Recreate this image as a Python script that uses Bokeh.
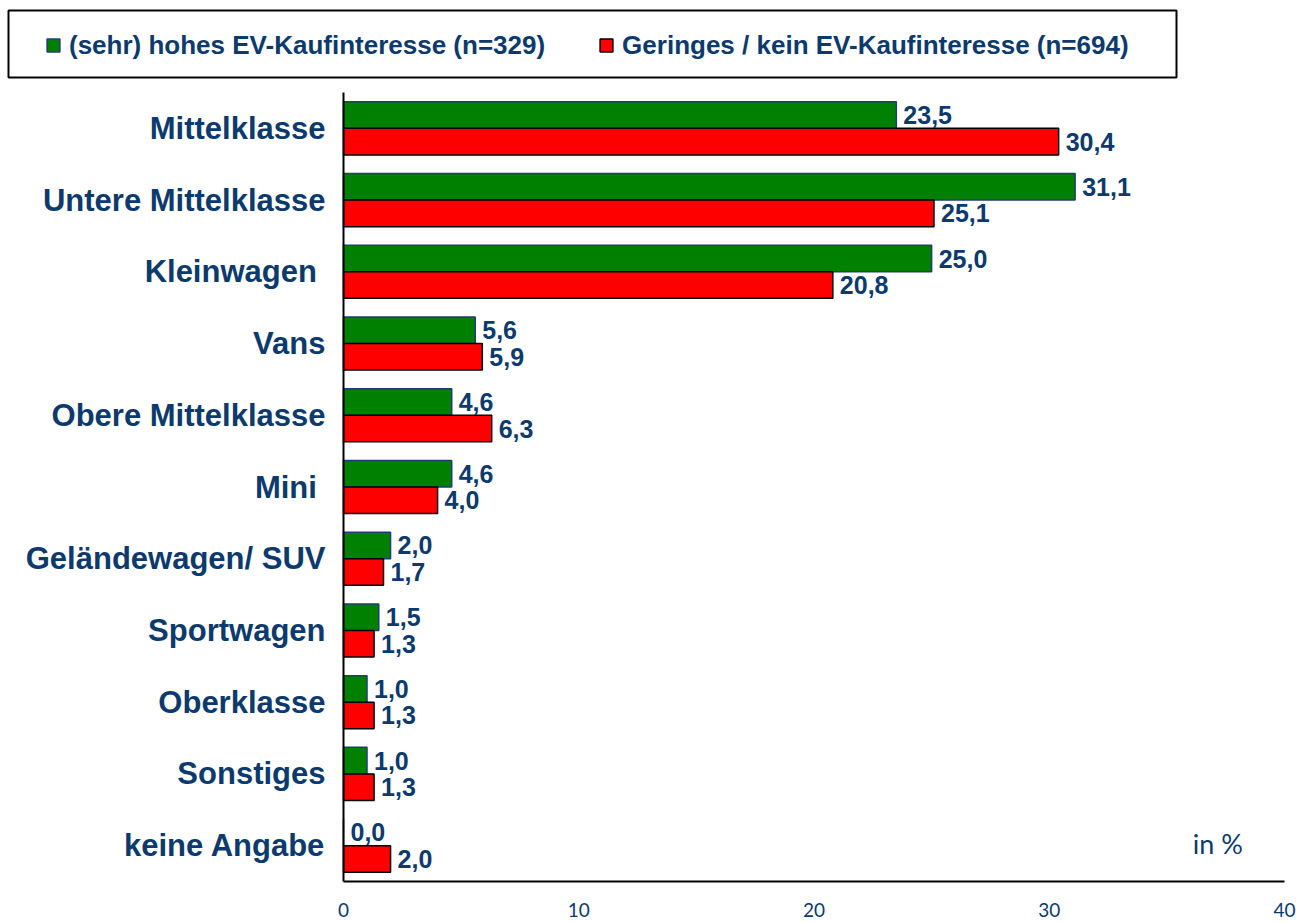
from bokeh.plotting import figure
from bokeh.models import (Range1d, FixedTicker, Legend, LegendItem, ColumnDataSource,
                          LinearAxis)
from bokeh.transform import dodge
from bokeh.core.properties import value
from bokeh.embed import file_html
from bokeh.resources import INLINE

categories = ["Mittelklasse", "Untere Mittelklasse", "Kleinwagen\u00a0", "Vans",
              "Obere Mittelklasse", "Mini\u00a0", "Geländewagen/ SUV", "Sportwagen",
              "Oberklasse", "Sonstiges", "keine Angabe"]
high_interest = [23.5, 31.1, 25.0, 5.6, 4.6, 4.6, 2.0, 1.5, 1.0, 1.0, 0.0]
low_interest = [30.4, 25.1, 20.8, 5.9, 6.3, 4.0, 1.7, 1.3, 1.3, 1.3, 2.0]
x_ticks = [0, 10, 20, 30, 40]
legend_labels = ["(sehr) hohes EV-Kaufinteresse (n=329)",
                 "Geringes / kein EV-Kaufinteresse (n=694)"]
unit_label = "in %"

NAVY = "#0c3a6d"
GREEN = "#008000"
RED = "#ff0000"
GREEN_EDGE = "#1f3d73"

# canvas / plot-area geometry (pixels)
W, H = 1296, 922
PX_L, PX_R, PX_T, PX_B = 343, 1284, 92, 881
X_MAX = 40
n = len(categories)
xk = (PX_R - PX_L) / X_MAX
yk = (PX_B - PX_T) / n
x_start = -PX_L / xk
x_end = X_MAX + (W - PX_R) / xk
y_start = -0.5 - (H - PX_B) / yk
y_end = n - 0.5 + PX_T / yk


def px_x(px):
    return x_start + px / xk


def px_y(py):
    return y_end - py / yk


def fmt(v):
    return f"{v:.1f}".replace(".", ",")


ypos = [n - 1 - i for i in range(n)]

src = ColumnDataSource(dict(
    y=ypos,
    high=high_interest,
    low=low_interest,
    high_txt=[fmt(v) for v in high_interest],
    low_txt=[fmt(v) for v in low_interest],
))

p = figure(width=W, height=H, x_range=Range1d(x_start, x_end),
           y_range=Range1d(y_start, y_end), x_axis_location=None,
           y_axis_location=None, min_border=0,
           output_backend="svg", toolbar_location=None)
p.outline_line_color = None
p.grid.grid_line_color = None

BAR_H = 0.37
OFF = 0.185

p.hbar(y=dodge("y", OFF), left=0, right="high", height=BAR_H,
       fill_color=GREEN, line_color=GREEN_EDGE, line_width=1.5, source=src)
p.hbar(y=dodge("y", -OFF), left=0, right="low", height=BAR_H,
       fill_color=RED, line_color="black", line_width=1.5, source=src)

label_kw = dict(x_offset=7, text_baseline="middle", text_align="left",
                text_font=value("Liberation Sans"), text_font_style="bold",
                text_font_size="25px", text_color=NAVY, source=src)
p.text(x="high", y=dodge("y", OFF), text="high_txt", **label_kw)
p.text(x="low", y=dodge("y", -OFF), text="low_txt", **label_kw)

p.text(x=[36.1], y=[ypos[-1]], text=[unit_label], text_baseline="middle",
       text_align="left", text_font=value("Lato"), text_font_size="27px",
       text_color=NAVY, y_offset=-2)

# axes (fixed at x=0 and at the bottom of the plot area)
xaxis = LinearAxis(fixed_location=-0.5, bounds=(0, X_MAX),
                   ticker=FixedTicker(ticks=x_ticks))
xaxis.major_tick_line_color = None
xaxis.minor_tick_line_color = None
xaxis.major_tick_out = 0
xaxis.major_tick_in = 0
xaxis.major_label_text_font = "Lato"
xaxis.major_label_text_font_size = "19px"
xaxis.major_label_text_color = NAVY
xaxis.major_label_standoff = 21
xaxis.axis_line_width = 2
xaxis.axis_line_color = "black"
p.add_layout(xaxis, "below")

yaxis = LinearAxis(fixed_location=0, bounds=(-0.5, n - 0.5),
                   ticker=FixedTicker(ticks=ypos),
                   major_label_overrides={ypos[i]: categories[i] for i in range(n)})
yaxis.major_tick_line_color = None
yaxis.minor_tick_line_color = None
yaxis.major_tick_out = 0
yaxis.major_tick_in = 0
yaxis.major_label_text_font = "Liberation Sans"
yaxis.major_label_text_font_style = "bold"
yaxis.major_label_text_font_size = "31px"
yaxis.major_label_text_color = NAVY
yaxis.major_label_standoff = 18
yaxis.axis_line_width = 2
yaxis.axis_line_color = "black"
p.add_layout(yaxis, "left")

# legend frame box
p.quad(left=[px_x(8)], right=[px_x(1176)], top=[px_y(10)], bottom=[px_y(77)],
       fill_color=None, line_color="black", line_width=2)
# legend glyph proxies (outside the visible range)
r1 = p.scatter(x=[x_start - 10], y=[y_start - 10], marker="square",
               fill_color=GREEN, line_color=GREEN_EDGE, line_width=1.5)
r2 = p.scatter(x=[x_start - 10], y=[y_start - 10], marker="square",
               fill_color=RED, line_color="black", line_width=1.5)
legend = Legend(
    items=[LegendItem(label=legend_labels[0], renderers=[r1]),
           LegendItem(label=legend_labels[1], renderers=[r2])],
    orientation="horizontal",
    location=(37, H - 61),
    glyph_width=32, glyph_height=32, label_height=32,
    label_standoff=0, padding=0, spacing=45, margin=0,
    border_line_color=None, background_fill_alpha=0,
    label_text_font="Liberation Sans", label_text_font_style="bold",
    label_text_font_size="26px", label_text_color=NAVY,
)
p.add_layout(legend)

open("out.html", "w").write(file_html(p, INLINE))
